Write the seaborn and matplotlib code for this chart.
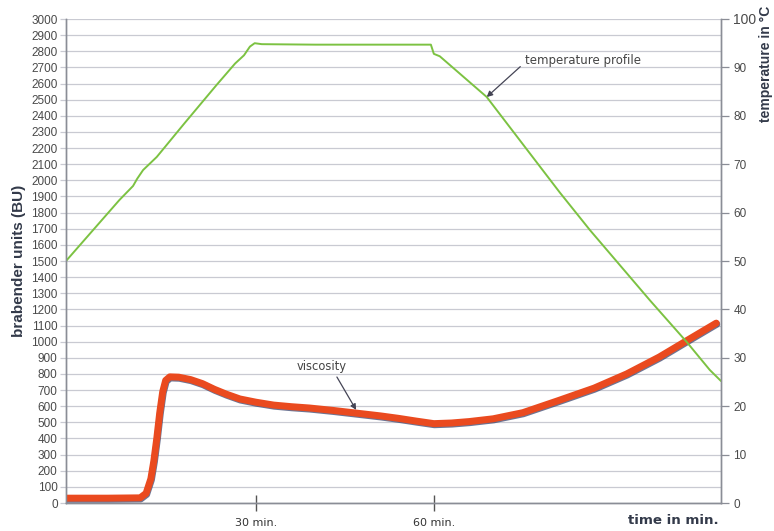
import matplotlib
matplotlib.use("Agg")
import matplotlib.pyplot as plt
import matplotlib.patheffects as pe
import seaborn as sns
import pandas as pd

# ---- data ----
visc_time = [-2, 5, 10.5, 11.5, 12.3, 12.8, 13.3, 13.8, 14.3, 14.8, 15.5, 17, 19, 21, 23, 25,
             27.3, 30, 33, 36, 39, 43, 47, 51, 54, 57, 60, 63, 66, 70, 75, 81, 87, 92.5, 98,
             103.7, 107.6]
visc_bu = [30, 30, 32, 60, 150, 260, 400, 560, 690, 760, 782, 780, 765, 740, 705, 675,
           645, 625, 607, 597, 589, 574, 557, 540, 525, 508, 492, 496, 505, 522, 560, 635,
           712, 800, 905, 1030, 1115]

temp_time = [-2, 3, 7, 9.3, 10, 11, 13.3, 18, 23.4, 26.5, 28, 29, 29.8, 31, 40, 50, 59.5,
             60, 61, 68.9, 81.2, 86.3, 96.4, 102.6, 106.5, 108.4]
temp_c = [50, 57, 62.6, 65.5, 67, 68.8, 71.5, 78.5, 86.4, 90.8, 92.5, 94.3, 95, 94.8, 94.7,
          94.7, 94.7, 92.8, 92.3, 83.9, 64.2, 56.4, 41.9, 33.3, 27.5, 25.2]

bu_ticks = list(range(0, 3001, 100))
temp_ticks = list(range(0, 101, 10))
x_ticks = [30, 60]
x_labels = ["30 min.", "60 min."]

visc_df = pd.DataFrame({"time": visc_time, "BU": visc_bu})
temp_df = pd.DataFrame({"time": temp_time, "temp": temp_c})

sns.set_theme(style="white")
plt.rcParams["font.family"] = ["Liberation Sans", "DejaVu Sans"]

GREY = "#8a8d96"
TXT = "#4a4a4a"
RED = "#ea4a1f"
GREEN = "#7cc242"

fig = plt.figure(figsize=(7.74, 5.31), dpi=100)
ax = fig.add_axes([66 / 774, 1 - 503 / 531, (721 - 66) / 774, (503 - 19) / 531])
ax2 = ax.twinx()

sns.lineplot(data=visc_df, x="time", y="BU", ax=ax, color=RED, lw=5,
             solid_capstyle="round", solid_joinstyle="round", zorder=3,
             path_effects=[pe.SimpleLineShadow(offset=(0.4, -0.8), shadow_color="#2f3a66",
                                               alpha=0.7), pe.Normal()])
sns.lineplot(data=temp_df, x="time", y="temp", ax=ax2, color=GREEN, lw=1.4)

ax.set_xlim(-2, 108.4)
ax.set_ylim(0, 3000)
ax2.set_ylim(0, 100)
ax.set_yticks(bu_ticks)
ax2.set_yticks(temp_ticks)
ax.set_xticks(x_ticks)
ax.set_xticklabels(x_labels, family="DejaVu Sans", fontsize=8, color="#333333")
ax.set_yticklabels([str(v) for v in bu_ticks], fontsize=8.5, color=TXT)
ax2.set_yticklabels([str(v) for v in temp_ticks], fontsize=8.5, color=TXT)
ax2.get_yticklabels()[-1].set_fontsize(10)

ax.grid(axis="y", color="#c9cad2", lw=0.9)
ax.grid(axis="x", visible=False)
ax2.grid(False)
ax.set_axisbelow(True)

ax.tick_params(axis="x", bottom=True, direction="inout", length=12, width=1,
               color="#555555", pad=5)
ax.tick_params(axis="y", left=True, direction="out", length=4, width=0.9,
               color="#c9cad2", pad=2)
ax2.tick_params(axis="y", right=True, direction="out", length=6, width=0.9,
                color=GREY, pad=3)

for a in (ax, ax2):
    a.spines["top"].set_visible(False)
    for side in ("left", "right", "bottom"):
        a.spines[side].set_color(GREY)
        a.spines[side].set_linewidth(1)

ax.set_xlabel("")
ax.set_ylabel("brabender units (BU)", fontsize=11, fontweight="bold", color="#333a4a",
              labelpad=4)
ax2.set_ylabel("")
fig.text(766 / 774, 1 - 6 / 531, "temperature in °C", rotation=90, ha="center", va="top",
         fontsize=10, fontweight="bold", color="#333a4a")
fig.text(673 / 774, 1 - 521 / 531, "time in min.", ha="center", va="center",
         family="DejaVu Sans", fontsize=9.6, fontweight="bold", color="#333a4a")

ax.annotate("temperature profile", xy=(68.9, 2516), xytext=(75.3, 2745),
            ha="left", va="center", fontsize=8.5, family="DejaVu Sans", color="#444444",
            arrowprops=dict(arrowstyle="-|>", color="#444455", lw=0.9,
                            relpos=(0, 0.3), shrinkA=1, shrinkB=0))
ax.annotate("viscosity", xy=(46.9, 577), xytext=(36.9, 849),
            ha="left", va="center", fontsize=8.3, family="DejaVu Sans", color="#444444",
            arrowprops=dict(arrowstyle="-|>", color="#444455", lw=0.9,
                            relpos=(0.75, 0), shrinkA=1, shrinkB=0))

fig.savefig("out.png", dpi=100)
